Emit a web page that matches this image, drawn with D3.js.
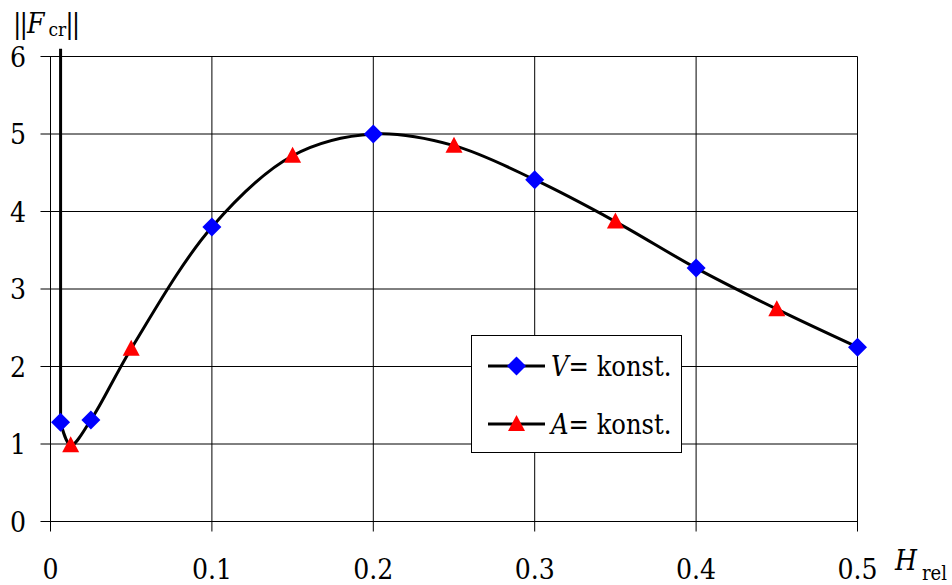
<!DOCTYPE html>
<html lang="en">
<head>
<meta charset="utf-8">
<title>Fcr vs Hrel</title>
<script src="https://cdn.jsdelivr.net/npm/d3@7"></script>
<style>
  body { margin: 0; background: #fff; }
</style>
</head>
<body>
<script>
// data
var vX = [0.00625, 0.025, 0.1, 0.2, 0.3, 0.4, 0.5];
var vY = [1.28, 1.31, 3.80, 5.00, 4.41, 3.27, 2.25];
var aX = [0.0125, 0.05, 0.15, 0.25, 0.35, 0.45];
var aY = [0.985, 2.23, 4.72, 4.85, 3.87, 2.74];
// the curve leaves the chart straight up from the first V point
var topX = 0.00625, topY = 6.1;
var xTicks = [0, 0.1, 0.2, 0.3, 0.4, 0.5];
var yTicks = [0, 1, 2, 3, 4, 5, 6];

var FONT = "DejaVu Serif";
var W = 952, H = 585;
var svg = d3.select("body").append("svg").attr("width", W).attr("height", H)
  .style("font-family", FONT).style("font-stretch", "condensed");

var x = d3.scaleLinear().domain([0, 0.5]).range([50.5, 857.5]);
var y = d3.scaleLinear().domain([0, 6]).range([521.5, 56.5]);

// grid
svg.append("g").selectAll("line").data(yTicks).enter().append("line")
  .attr("x1", x(0) - 10).attr("x2", x(0.5))
  .attr("y1", function(d) { return y(d); }).attr("y2", function(d) { return y(d); })
  .attr("stroke", "#000").attr("stroke-width", 1);
svg.append("g").selectAll("line").data(xTicks).enter().append("line")
  .attr("x1", function(d) { return x(d); }).attr("x2", function(d) { return x(d); })
  .attr("y1", y(6)).attr("y2", y(0) + 10)
  .attr("stroke", "#000").attr("stroke-width", 1);

// tick labels
svg.append("g").selectAll("text").data(yTicks).enter().append("text")
  .attr("x", 26).attr("y", function(d) { return y(d); })
  .attr("dy", "0.36em").attr("text-anchor", "end")
  .style("font-size", "28px").text(function(d) { return d; });
svg.append("g").selectAll("text").data(xTicks).enter().append("text")
  .attr("x", function(d) { return x(d); }).attr("y", 579)
  .attr("text-anchor", "middle")
  .style("font-size", "28px").text(function(d) { return d; });

// axis titles
var yt = svg.append("text").attr("x", 13).attr("y", 33).style("font-size", "28px");
yt.append("tspan").style("letter-spacing", "-2px").text("||");
yt.append("tspan").style("font-style", "italic").attr("dx", 1).text("F");
yt.append("tspan").style("font-size", "19px").attr("dx", 4).attr("dy", 3).text("cr");
yt.append("tspan").style("letter-spacing", "-2px").attr("dx", -1).attr("dy", -3).text("||");

var xt = svg.append("text").attr("x", 895).attr("y", 570).style("font-size", "28px");
xt.append("tspan").style("font-style", "italic").text("H");
xt.append("tspan").style("font-size", "20px").attr("dx", 5).attr("dy", 10).text("rel");

// curve
var pts = [];
vX.forEach(function(d, i) { pts.push([d, vY[i]]); });
aX.forEach(function(d, i) { pts.push([d, aY[i]]); });
pts.sort(function(a, b) { return a[0] - b[0]; });

var line = d3.line()
  .x(function(d) { return x(d[0]); })
  .y(function(d) { return y(d[1]); })
  .curve(d3.curveCatmullRom.alpha(0.5));

svg.append("path").datum(pts).attr("d", line)
  .attr("fill", "none").attr("stroke", "#000").attr("stroke-width", 3);
svg.append("path").datum([[topX, topY], [vX[0], vY[0]]])
  .attr("d", d3.line().x(function(d) { return x(d[0]); }).y(function(d) { return y(d[1]); }))
  .attr("fill", "none").attr("stroke", "#000").attr("stroke-width", 3);

var diamond = "M0,-9.5L9.5,0L0,9.5L-9.5,0Z";
var tri = "M0,-9L8.5,7L-8.5,7Z";

svg.append("g").selectAll("path").data(vX).enter().append("path")
  .attr("d", diamond).attr("fill", "#0000ff")
  .attr("transform", function(d, i) { return "translate(" + x(d) + "," + y(vY[i]) + ")"; });
svg.append("g").selectAll("path").data(aX).enter().append("path")
  .attr("d", tri).attr("fill", "#ff0000")
  .attr("transform", function(d, i) { return "translate(" + x(d) + "," + y(aY[i]) + ")"; });

// legend
var lg = svg.append("g");
lg.append("rect").attr("x", 471.5).attr("y", 335.5).attr("width", 210).attr("height", 117)
  .attr("fill", "#fff").attr("stroke", "#000").attr("stroke-width", 1);
var rows = [
  { y: 366, sym: diamond, col: "#0000ff", name: "V" },
  { y: 424, sym: tri, col: "#ff0000", name: "A" }
];
rows.forEach(function(r) {
  lg.append("line").attr("x1", 488).attr("x2", 545).attr("y1", r.y).attr("y2", r.y)
    .attr("stroke", "#000").attr("stroke-width", 3);
  lg.append("path").attr("d", r.sym).attr("fill", r.col)
    .attr("transform", "translate(516.5," + r.y + ")");
  var t = lg.append("text").attr("x", 551).attr("y", r.y + 10).style("font-size", "27px");
  t.append("tspan").style("font-style", "italic").text(r.name);
  t.append("tspan").text("= konst.");
});
</script>
</body>
</html>
